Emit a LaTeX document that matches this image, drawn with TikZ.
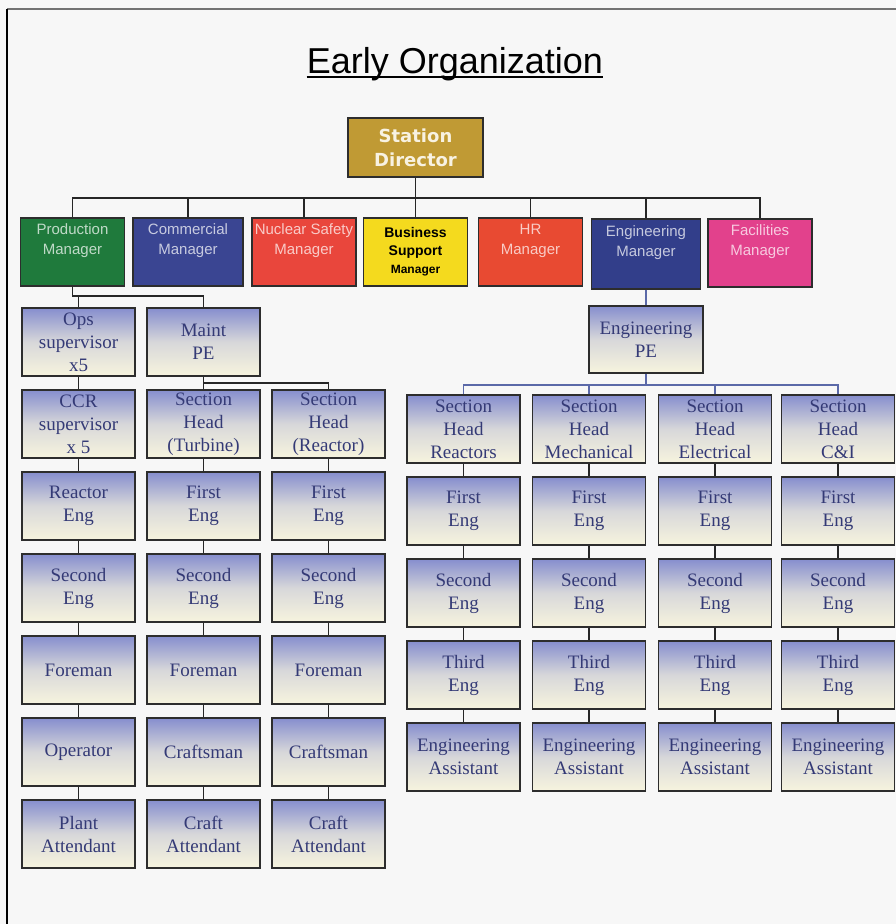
\documentclass[tikz,border=0pt]{standalone}
\usepackage{fontspec}
\setmainfont{Liberation Serif}
\newfontfamily\mgrfont{Liberation Sans}
\newfontfamily\dirfont{DejaVu Sans}
\usepackage{xcolor}
\usepackage{tikz}
\definecolor{bgcol}{RGB}{247,247,247}
\definecolor{dirgold}{RGB}{192,154,52}
\definecolor{dirtext}{RGB}{248,242,226}
\definecolor{prodgreen}{RGB}{31,122,60}
\definecolor{commblue}{RGB}{58,69,146}
\definecolor{nsred}{RGB}{233,70,60}
\definecolor{bsyellow}{RGB}{244,218,30}
\definecolor{hrred}{RGB}{232,74,50}
\definecolor{engblue}{RGB}{50,62,138}
\definecolor{facpink}{RGB}{226,65,140}
\definecolor{boxtop}{RGB}{134,142,206}
\definecolor{boxbot}{RGB}{247,244,222}
\definecolor{boxtext}{RGB}{52,58,118}
\definecolor{boxedge}{RGB}{45,45,45}
\definecolor{engline}{RGB}{91,105,168}

\begin{document}
\begin{tikzpicture}[x=1pt, y=-1pt,
  staffbox/.style={draw=boxedge, line width=1.5pt, top color=boxtop, bottom color=boxbot, middle color=boxbot!72!boxtop, text=boxtext, minimum width=113pt, minimum height=68pt, inner sep=0pt, align=center, font=\fontsize{19}{23}\selectfont},
  mgrbox/.style={draw=boxedge, line width=1.2pt, fill=#1, text=white!72!#1, minimum width=104pt, minimum height=68pt, inner sep=0pt, align=center, font=\mgrfont\fontsize{15}{20}\selectfont},
  conn/.style={line width=1.6pt, draw=black!85},
  engconn/.style={line width=1.6pt, draw=engline}]
\fill[bgcol] (0,0) rectangle (896,924);
\useasboundingbox (0,0) rectangle (896,924);
\draw[line width=2pt, black!55] (7,9) -- (896,9);
\draw[line width=1.5pt, black] (7,9) -- (7,924);

% Title
\node[font=\mgrfont\fontsize{36}{40}\selectfont, inner sep=0pt, anchor=base] (title) at (455,73) {Early Organization};
\draw[line width=1.8pt] ([yshift=-4pt]title.base west) -- ([yshift=-4pt]title.base east);

% Station Director
\node[draw=boxedge, line width=1.2pt, fill=dirgold, text=dirtext, minimum width=135pt, minimum height=59pt, align=center, font=\dirfont\bfseries\fontsize{18}{24}\selectfont] (dir) at (415.5,147.5) {Station\\Director};

% Managers
\node[mgrbox=prodgreen] (prod) at (72.5,252) {Production\\Manager\\\strut};
\node[mgrbox=commblue, minimum width=110pt] (comm) at (188,252) {Commercial\\Manager\\\strut};
\node[mgrbox=nsred] (nsafe) at (304,252) {Nuclear Safety\\Manager\\\strut};
\node[mgrbox=bsyellow, text=black, font=\mgrfont\bfseries\fontsize{14}{18}\selectfont] (bsm) at (415.5,252) {Business\\Support\\{\fontsize{12}{16}\selectfont Manager}};
\node[mgrbox=hrred] (hr) at (530.5,252) {HR\\Manager\\\strut};
\node[mgrbox=engblue, minimum width=109pt, minimum height=70pt] (engm) at (646,254) {Engineering\\Manager\\\strut};
\node[mgrbox=facpink] (fac) at (760,253) {Facilities\\Manager\\\strut};

\coordinate (bus) at (0,198);
\draw[conn] (dir) -- (bsm);
\draw[conn] (prod.north) |- (bus -| fac.north) -- (fac.north);
\draw[conn] (comm.north) -- (comm.north |- bus);
\draw[conn] (nsafe.north) -- (nsafe.north |- bus);
\draw[conn] (hr.north) -- (hr.north |- bus);
\draw[conn] (engm.north) -- (engm.north |- bus);

% Production - operations column
\node[staffbox] (ops) at (78.5,342) {Ops\\supervisor\\x5};
\node[staffbox] (ccr) at (78.5,424) {CCR\\supervisor\\x 5};
\node[staffbox] (reactoreng) at (78.5,506) {Reactor\\Eng};
\node[staffbox] (secondop) at (78.5,588) {Second\\Eng};
\node[staffbox] (foremanop) at (78.5,670) {Foreman};
\node[staffbox] (operator) at (78.5,752) {Operator};
\node[staffbox] (plantatt) at (78.5,834) {Plant\\Attendant};

% Production - maintenance, turbine
\node[staffbox] (maint) at (203.5,342) {Maint\\PE};
\node[staffbox] (headturb) at (203.5,424) {Section\\Head\\(Turbine)};
\node[staffbox] (firstturb) at (203.5,506) {First\\Eng};
\node[staffbox] (secondturb) at (203.5,588) {Second\\Eng};
\node[staffbox] (foremanturb) at (203.5,670) {Foreman};
\node[staffbox] (craftturb) at (203.5,752) {Craftsman};
\node[staffbox] (attturb) at (203.5,834) {Craft\\Attendant};

% Production - maintenance, reactor
\node[staffbox] (headreac) at (328.5,424) {Section\\Head\\(Reactor)};
\node[staffbox] (firstreac) at (328.5,506) {First\\Eng};
\node[staffbox] (secondreac) at (328.5,588) {Second\\Eng};
\node[staffbox] (foremanreac) at (328.5,670) {Foreman};
\node[staffbox] (craftreac) at (328.5,752) {Craftsman};
\node[staffbox] (attreac) at (328.5,834) {Craft\\Attendant};

\coordinate (pbus) at (0,296);
\draw[conn] (prod.south) |- (pbus -| maint.north) -- (maint.north);
\draw[conn] (ops.north) -- (ops.north |- pbus);
\coordinate (mbus) at (0,383);
\draw[conn] (headturb.north |- mbus) -| (headreac.north);
\draw[conn] (ops) -- (ccr) (ccr) -- (reactoreng) (reactoreng) -- (secondop) (secondop) -- (foremanop) (foremanop) -- (operator) (operator) -- (plantatt);
\draw[conn] (maint) -- (headturb) (headturb) -- (firstturb) (firstturb) -- (secondturb) (secondturb) -- (foremanturb) (foremanturb) -- (craftturb) (craftturb) -- (attturb);
\draw[conn] (headreac) -- (firstreac) (firstreac) -- (secondreac) (secondreac) -- (foremanreac) (foremanreac) -- (craftreac) (craftreac) -- (attreac);

% Engineering
\node[staffbox, minimum width=114pt, minimum height=67pt] (engpe) at (646,339.5) {Engineering\\PE};

\node[staffbox] (headrea) at (463.5,429) {Section\\Head\\Reactors};
\node[staffbox] (firstrea) at (463.5,511) {First\\Eng};
\node[staffbox] (secondrea) at (463.5,593) {Second\\Eng};
\node[staffbox] (thirdrea) at (463.5,675) {Third\\Eng};
\node[staffbox] (assistrea) at (463.5,757) {Engineering\\Assistant};

\node[staffbox] (headmech) at (589,429) {Section\\Head\\Mechanical};
\node[staffbox] (firstmech) at (589,511) {First\\Eng};
\node[staffbox] (secondmech) at (589,593) {Second\\Eng};
\node[staffbox] (thirdmech) at (589,675) {Third\\Eng};
\node[staffbox] (assistmech) at (589,757) {Engineering\\Assistant};

\node[staffbox] (headelec) at (715,429) {Section\\Head\\Electrical};
\node[staffbox] (firstelec) at (715,511) {First\\Eng};
\node[staffbox] (secondelec) at (715,593) {Second\\Eng};
\node[staffbox] (thirdelec) at (715,675) {Third\\Eng};
\node[staffbox] (assistelec) at (715,757) {Engineering\\Assistant};

\node[staffbox] (headci) at (838,429) {Section\\Head\\C\&I};
\node[staffbox] (firstci) at (838,511) {First\\Eng};
\node[staffbox] (secondci) at (838,593) {Second\\Eng};
\node[staffbox] (thirdci) at (838,675) {Third\\Eng};
\node[staffbox] (assistci) at (838,757) {Engineering\\Assistant};

\coordinate (ebus) at (0,385);
\draw[engconn] (engm) -- (engpe);
\draw[engconn] (engpe.south) -- (engpe.south |- ebus);
\draw[engconn] (headrea.north) |- (ebus -| headci.north) -- (headci.north);
\draw[engconn] (headmech.north) -- (headmech.north |- ebus);
\draw[engconn] (headelec.north) -- (headelec.north |- ebus);
\draw[conn] (headrea) -- (firstrea) (firstrea) -- (secondrea) (secondrea) -- (thirdrea) (thirdrea) -- (assistrea);
\draw[conn] (headmech) -- (firstmech) (firstmech) -- (secondmech) (secondmech) -- (thirdmech) (thirdmech) -- (assistmech);
\draw[conn] (headelec) -- (firstelec) (firstelec) -- (secondelec) (secondelec) -- (thirdelec) (thirdelec) -- (assistelec);
\draw[conn] (headci) -- (firstci) (firstci) -- (secondci) (secondci) -- (thirdci) (thirdci) -- (assistci);
\end{tikzpicture}
\end{document}
